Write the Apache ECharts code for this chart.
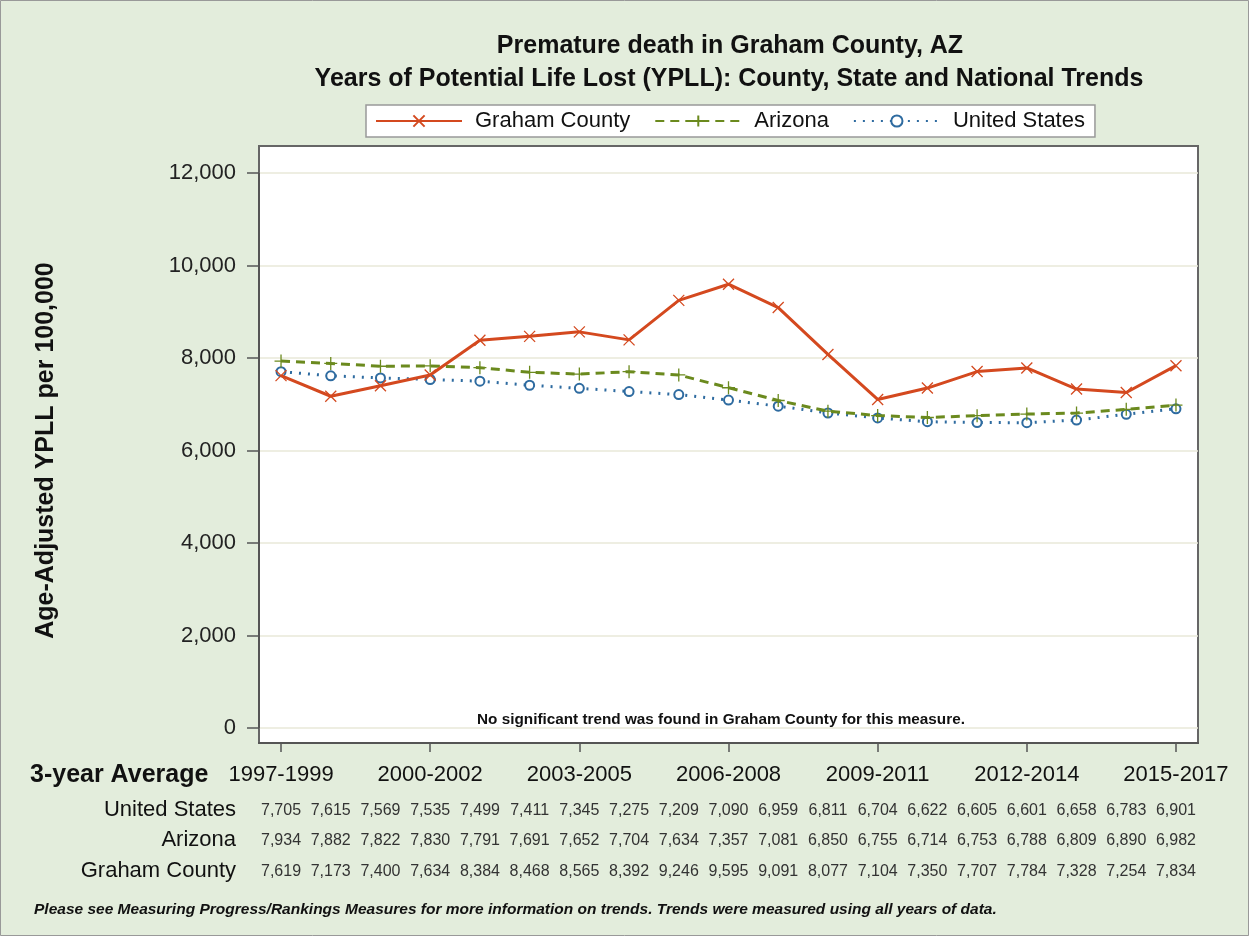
<!DOCTYPE html>
<html>
<head>
<meta charset="utf-8">
<script src="https://cdn.jsdelivr.net/npm/echarts@6/dist/echarts.min.js"></script>
<style>
  html, body { margin: 0; padding: 0; background: #E3EDDC; }
  #chart { width: 1249px; height: 936px; }
</style>
</head>
<body>
<div id="chart"></div>
<script>
const periods = ['1997-1999', '1998-2000', '1999-2001', '2000-2002', '2001-2003', '2002-2004', '2003-2005',
  '2004-2006', '2005-2007', '2006-2008', '2007-2009', '2008-2010', '2009-2011', '2010-2012',
  '2011-2013', '2012-2014', '2013-2015', '2014-2016', '2015-2017']
const grahamCounty = [7619, 7173, 7400, 7634, 8384, 8468, 8565, 8392, 9246, 9595, 9091, 8077, 7104, 7350, 7707, 7784, 7328, 7254, 7834]
const arizona = [7934, 7882, 7822, 7830, 7791, 7691, 7652, 7704, 7634, 7357, 7081, 6850, 6755, 6714, 6753, 6788, 6809, 6890, 6982]
const unitedStates = [7705, 7615, 7569, 7535, 7499, 7411, 7345, 7275, 7209, 7090, 6959, 6811, 6704, 6622, 6605, 6601, 6658, 6783, 6901]
const labelIdx = [0, 3, 6, 9, 12, 15, 18]
const allIdx = periods.map((p, i) => i)

const FONT = "'Liberation Sans', Arial, sans-serif"
const fmt = v => v.toLocaleString('en-US')
const pairs = arr => arr.map((v, i) => [i, v])

const chart = echarts.init(document.getElementById('chart'))

// x 轴共用的范围
const xBase = { type: 'value', min: -0.443, max: 18.443, gridIndex: 0 }
const tableAxis = (arr, offset) => Object.assign({}, xBase, {
  position: 'bottom',
  offset: offset,
  axisLine: { show: false, onZero: false },
  axisTick: { show: false },
  splitLine: { show: false },
  axisLabel: {
    customValues: allIdx,
    margin: 0,
    fontSize: 16,
    fontFamily: FONT,
    color: '#333',
    formatter: v => fmt(arr[Math.round(v)])
  }
})

const rowLabel = (text, y) => ({
  type: 'text', x: 236, y: y,
  style: { text: text, font: '22px ' + FONT, fill: '#111', textAlign: 'right', textVerticalAlign: 'middle' }
})

chart.setOption({
  backgroundColor: '#E3EDDC',
  animation: false,
  title: [{
    text: 'Premature death in Graham County, AZ',
    left: 730, top: 34, textAlign: 'center', padding: 0,
    textStyle: { fontSize: 25, fontWeight: 'bold', fontFamily: FONT, color: '#111' }
  }, {
    text: 'Years of Potential Life Lost (YPLL): County, State and National Trends',
    left: 729, top: 67, textAlign: 'center', padding: 0,
    textStyle: { fontSize: 25, fontWeight: 'bold', fontFamily: FONT, color: '#111' }
  }],
  legend: {
    top: 105, left: 366,
    backgroundColor: '#fff', borderColor: '#999', borderWidth: 1.5,
    padding: [5, 10, 5, 9],
    itemWidth: 86, itemHeight: 14, itemGap: 24,
    textStyle: { fontSize: 22, fontFamily: FONT, color: '#111', padding: [0, 0, 0, 8] },
    data: ['Graham County', 'Arizona', 'United States']
  },
  grid: { left: 259, right: 51, top: 173, bottom: 208 },
  xAxis: [
    Object.assign({}, xBase, {
      offset: 15,
      axisLine: { onZero: false, lineStyle: { color: '#555', width: 2 } },
      axisTick: { customValues: labelIdx, length: 9, lineStyle: { color: '#555', width: 1.5 } },
      splitLine: { show: false },
      axisLabel: {
        customValues: labelIdx,
        margin: 21,
        fontSize: 22,
        fontFamily: FONT,
        color: '#111',
        formatter: v => periods[Math.round(v)]
      }
    }),
    tableAxis(unitedStates, 75),
    tableAxis(arizona, 105),
    tableAxis(grahamCounty, 136)
  ],
  yAxis: {
    type: 'value', min: 0, max: 12000, interval: 2000,
    name: 'Age-Adjusted YPLL per 100,000',
    nameLocation: 'middle', nameGap: 200, nameRotate: 90,
    nameTextStyle: { fontSize: 25, fontWeight: 'bold', fontFamily: FONT, color: '#111' },
    axisLine: { show: true, onZero: false, lineStyle: { color: '#555', width: 2 } },
    axisTick: { show: true, length: 12, lineStyle: { color: '#555', width: 1.5 } },
    axisLabel: { fontSize: 22, fontFamily: FONT, color: '#222', margin: 23, formatter: v => fmt(v) },
    splitLine: { lineStyle: { color: '#E8E8D8', width: 1.5 } }
  },
  series: [{
    name: 'Graham County', type: 'line', data: pairs(grahamCounty),
    symbol: 'path://M0,0L10,10M10,0L0,10', symbolSize: 11,
    itemStyle: { color: '#D4491F', borderColor: '#D4491F', borderWidth: 1.3 },
    lineStyle: { color: '#D4491F', width: 3 }, z: 5
  }, {
    name: 'Arizona', type: 'line', data: pairs(arizona),
    symbol: 'path://M5,0L5,10M0,5L10,5', symbolSize: 13,
    itemStyle: { color: '#6B8A1E', borderColor: '#6B8A1E', borderWidth: 1.3 },
    lineStyle: { color: '#6B8A1E', width: 3, type: [9, 6] }, z: 4
  }, {
    name: 'United States', type: 'line', data: pairs(unitedStates),
    symbol: 'emptyCircle', symbolSize: 9,
    itemStyle: { color: '#2E6BA0', borderColor: '#2E6BA0', borderWidth: 1.5 },
    lineStyle: { color: '#2E6BA0', width: 3, type: [2, 7] }, z: 3
  }],
  graphic: [
    {
      type: 'rect', z: -10, silent: true,
      shape: { x: 259, y: 146, width: 939, height: 597 },
      style: { fill: '#fff', stroke: '#666', lineWidth: 2 }
    },
    {
      type: 'rect', z: -20, silent: true,
      shape: { x: 0.5, y: 0.5, width: 1248, height: 935 },
      style: { fill: 'none', stroke: '#999', lineWidth: 1 }
    },
    {
      type: 'text', x: 721, y: 720,
      style: { text: 'No significant trend was found in Graham County for this measure.', font: 'bold 15.3px ' + FONT, fill: '#111', textAlign: 'center', textVerticalAlign: 'middle' }
    },
    {
      type: 'text', x: 30, y: 775,
      style: { text: '3-year Average', font: 'bold 25px ' + FONT, fill: '#111', textVerticalAlign: 'middle' }
    },
    rowLabel('United States', 810),
    rowLabel('Arizona', 840),
    rowLabel('Graham County', 871),
    {
      type: 'text', x: 34, y: 910,
      style: { text: 'Please see Measuring Progress/Rankings Measures for more information on trends. Trends were measured using all years of data.', font: 'italic bold 15.5px ' + FONT, fill: '#111', textVerticalAlign: 'middle' }
    }
  ]
})
</script>
</body>
</html>
